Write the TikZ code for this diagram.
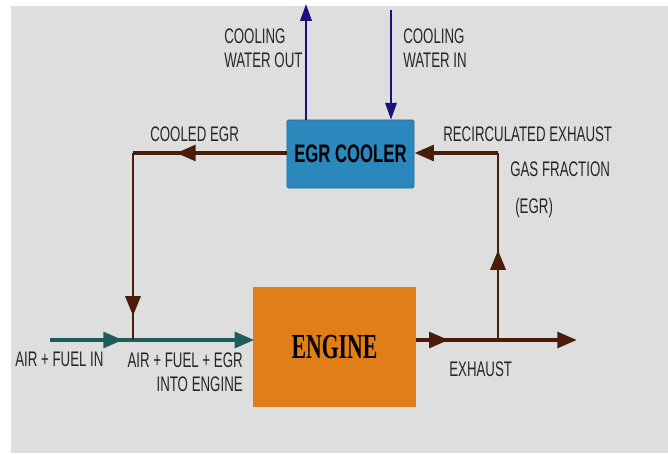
\documentclass[tikz,border=0pt]{standalone}
\usepackage{fontspec}
\setmainfont{Liberation Sans}[FakeStretch=0.63]
\newfontfamily\coolerfont{Liberation Sans}[FakeStretch=0.66]
\newfontfamily\enginefont{Liberation Serif}[FakeStretch=0.62]
\usetikzlibrary{arrows.meta,decorations.markings}

\definecolor{bggrey}{HTML}{DEDEDE}
\definecolor{coolerblue}{HTML}{2A88BD}
\definecolor{engineorange}{HTML}{E07E18}
\definecolor{intaketeal}{HTML}{1F5C5C}
\definecolor{egrbrown}{HTML}{4A1D0A}
\definecolor{waterblue}{HTML}{1C0F7E}

\tikzset{
  flowlbl/.style={font=\fontsize{15}{17.5}\selectfont, text=black!85, inner sep=0pt, anchor=north west, align=left},
  headtip/.style={-{Triangle[length=14pt,width=11pt]}},
  midarrow/.style={postaction={decorate}, decoration={markings, mark=at position #1 with {\arrow{Triangle[length=14pt,width=11pt]}}}},
}

\begin{document}
\begin{tikzpicture}[x=0.025cm,y=-0.025cm]
  \useasboundingbox (0,0) rectangle (668,453);
  \fill[bggrey] (11,6) rectangle (668,453);

  \node[fill=coolerblue, draw=coolerblue!80!black, rounded corners=1pt, minimum width=3.175cm, minimum height=1.7cm] (cooler) at (350.5,154) {};
  \node[font=\coolerfont\bfseries\fontsize{18}{18}\selectfont] at (cooler.center) {EGR COOLER};
  \node[fill=engineorange, minimum width=4.075cm, minimum height=3cm] (engine) at (334.5,347) {};
  \node[font=\enginefont\bfseries\fontsize{25}{25}\selectfont] at (engine.center) {ENGINE};

  \coordinate (airin) at (50,340);
  \coordinate (mix) at (133,340);
  \coordinate (engin) at (253,340);
  \coordinate (engout) at (416,340);
  \coordinate (split) at (498,340);
  \coordinate (exhend) at (577,340);
  \coordinate (egrtop) at (498,153);
  \coordinate (cooledtop) at (133,153);
  \coordinate (waterout) at (306,4);
  \coordinate (waterin) at (391,10);

  % intake
  \draw[intaketeal, line width=3pt, midarrow=0.88] (airin) -- (mix);
  \draw[intaketeal, line width=3pt, shorten >=-1pt, -{Triangle[length=14pt,width=11pt]}] (mix) -- (engin);

  % exhaust
  \draw[egrbrown, line width=3pt, midarrow=0.4] (engout) -- (split);
  \draw[egrbrown, line width=3pt, headtip] (split) -- (exhend);

  % egr loop
  \draw[egrbrown, line width=1.6pt, midarrow=0.48] (split) -- (egrtop);
  \draw[egrbrown, line width=3pt, headtip] (egrtop) -- (cooler.east |- egrtop);
  \draw[egrbrown, line width=3pt, midarrow=0.72] (cooler.west |- cooledtop) -- (cooledtop);
  \draw[egrbrown, line width=1.6pt, midarrow=0.87] (cooledtop) -- (mix);

  % cooling water
  \draw[waterblue, line width=1.8pt, -{Triangle[length=12pt,width=8pt]}] (cooler.north -| waterout) -- (waterout);
  \draw[waterblue, line width=1.8pt, -{Triangle[length=12pt,width=8pt]}] (waterin) -- (cooler.north -| waterin);

  % labels
  \node[flowlbl] (lblwaterout) at (224,28) {COOLING\\WATER OUT};
  \node[flowlbl] (lblwaterin) at (403,28) {COOLING\\WATER IN};
  \node[flowlbl] (lblcooled) at (150,126) {COOLED EGR};
  \node[flowlbl] (lblrecirc) at (443,126) {RECIRCULATED EXHAUST};
  \node[flowlbl] (lblgas) at (510,161) {GAS FRACTION};
  \node[flowlbl] (lblegr) at (515,198) {(EGR)};
  \node[flowlbl] (lblairin) at (15,352) {AIR + FUEL IN};
  \node[flowlbl, align=right, anchor=north east] (lblmix) at (243,352) {AIR + FUEL + EGR\\INTO ENGINE};
  \node[flowlbl] (lblexhaust) at (449,361) {EXHAUST};
\end{tikzpicture}
\end{document}
